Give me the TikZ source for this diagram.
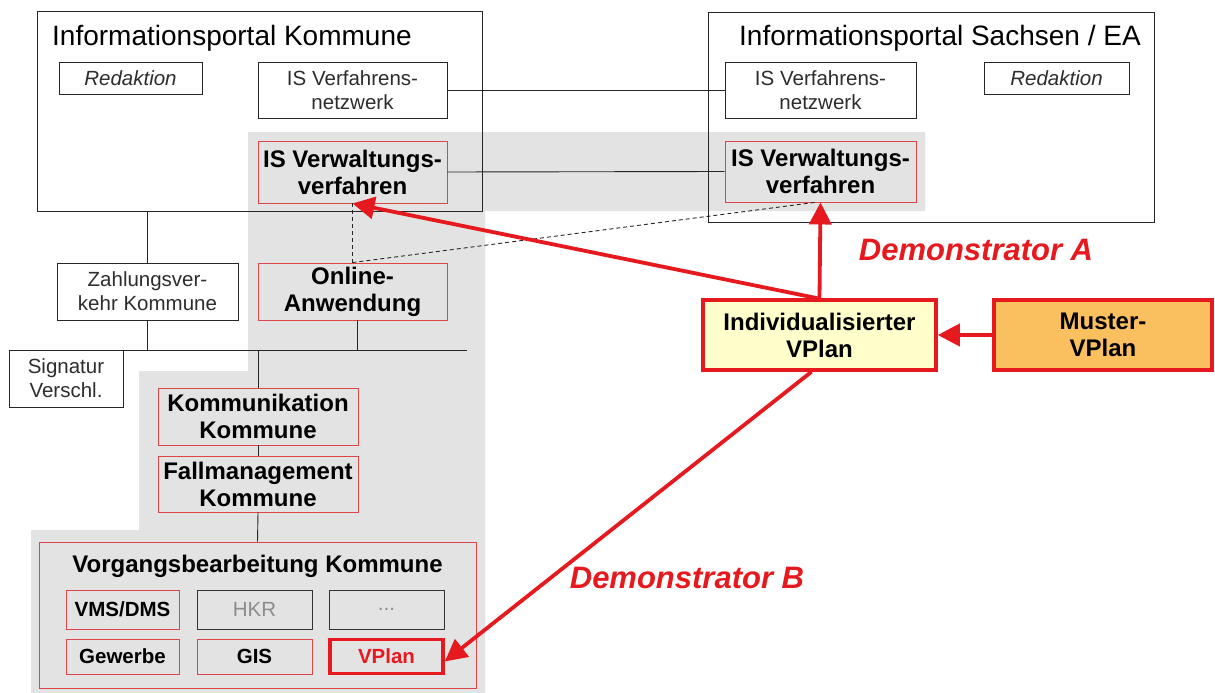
\documentclass[tikz,border=0pt]{standalone}
\usepackage{fontspec}
\setmainfont{Liberation Sans}
\usetikzlibrary{arrows.meta}

\definecolor{bandgrey}{RGB}{227,227,227}
\definecolor{vred}{RGB}{230,25,30}
\definecolor{boxred}{RGB}{220,70,70}
\definecolor{paleyellow}{RGB}{255,255,204}
\definecolor{mango}{RGB}{250,192,96}
\definecolor{txtgrey}{RGB}{45,45,45}
\definecolor{softgrey}{RGB}{140,140,140}

\tikzset{
  portal/.style={draw=black!85, line width=0.9pt, inner sep=0pt},
  plain/.style={draw=black!85, line width=0.9pt, fill=white, inner sep=0pt,
    align=center, text=txtgrey, font=\fontsize{20.5}{24}\selectfont},
  greybox/.style={draw=black!80, line width=0.9pt, inner sep=0pt,
    align=center, text=softgrey, font=\fontsize{20.5}{24}\selectfont},
  redbox/.style={draw=boxred, line width=0.9pt, inner sep=0pt, align=center,
    text=black, font=\bfseries\fontsize{24}{27}\selectfont},
  smallred/.style={redbox, font=\bfseries\fontsize{20.5}{24}\selectfont},
  plan/.style={draw=vred, line width=3.5pt, inner sep=0pt, align=center,
    text=black, font=\bfseries\fontsize{24}{27}\selectfont},
  title/.style={inner sep=0pt, text=black, font=\fontsize{28}{32}\selectfont},
  link/.style={draw=black!85, line width=0.9pt},
  dashlink/.style={link, dash pattern=on 4pt off 3pt},
  bigarrow/.style={draw=vred, line width=3.8pt,
    -{Triangle[length=22pt,width=22pt]}},
  demo/.style={inner sep=0pt, text=vred,
    font=\bfseries\itshape\fontsize{31}{34}\selectfont},
}

\begin{document}
\begin{tikzpicture}[x=1pt,y=-1pt]
  % canvas
  \fill[white] (0,0) rectangle (1215,693);
  \useasboundingbox (0,0) rectangle (1215,693);

  % grey band of the municipal process chain
  \fill[bandgrey] (248,132) -- (925,132) -- (925,211) -- (485,211)
    -- (485,693) -- (31,693) -- (31,530) -- (139,530) -- (139,371)
    -- (248,371) -- cycle;

  % the two portals
  \node[portal, minimum width=445, minimum height=200] (portalK) at (259.5,111) {};
  \node[title, anchor=west] (titleK) at (52,38) {Informationsportal Kommune};
  \node[portal, minimum width=446, minimum height=210] (portalS) at (931,117) {};
  \node[title, anchor=west] (titleS) at (739,38) {Informationsportal Sachsen / EA};

  \node[plain, minimum width=143, minimum height=32] (redL) at (130.5,78) {\itshape Redaktion};
  \node[plain, minimum width=189, minimum height=56] (netzL) at (352.5,90) {IS Verfahrens-\\netzwerk};
  \node[plain, minimum width=191, minimum height=56] (netzS) at (820.5,90) {IS Verfahrens-\\netzwerk};
  \node[plain, minimum width=145, minimum height=32] (redS) at (1056.5,78) {\itshape Redaktion};

  \node[redbox, minimum width=189, minimum height=62] (verwL) at (352.5,172) {IS Verwaltungs-\\verfahren};
  \node[redbox, minimum width=191, minimum height=61] (verwS) at (820.5,171.5) {IS Verwaltungs-\\verfahren};

  % municipal side
  \node[plain, minimum width=181, minimum height=57] (zahl) at (147.5,291.5) {Zahlungsver-\\kehr Kommune};
  \node[redbox, minimum width=189, minimum height=57] (online) at (352.5,291.5) {Online-\\Anwendung};
  \node[plain, minimum width=114, minimum height=57] (sig) at (66,378.5) {Signatur\\Verschl.};
  \coordinate (busL) at (9,350);
  \coordinate (busR) at (467,350);

  \node[redbox, minimum width=200, minimum height=57] (komm) at (258,416.5) {Kommunikation\\Kommune};
  \node[redbox, minimum width=200, minimum height=56] (fall) at (258,484) {Fallmanagement\\Kommune};

  \node[redbox, minimum width=437, minimum height=146] (vb) at (257.5,615) {};
  \node[inner sep=0pt, font=\bfseries\fontsize{24}{27}\selectfont] (vbtitle) at (257.5,566) {Vorgangsbearbeitung Kommune};
  \node[smallred, minimum width=113, minimum height=39] (vms) at (122.5,609.5) {VMS/DMS};
  \node[greybox, minimum width=115, minimum height=39] (hkr) at (254.5,609.5) {HKR};
  \node[greybox, minimum width=115, minimum height=39] (more) at (386.5,609.5) {...};
  \node[smallred, minimum width=113, minimum height=35] (gew) at (122.5,656.5) {Gewerbe};
  \node[smallred, minimum width=115, minimum height=35] (gis) at (254.5,656.5) {GIS};
  \node[plan, minimum width=113, minimum height=34, text=vred,
        font=\bfseries\fontsize{20.5}{24}\selectfont] (vplan) at (386.5,656.5) {VPlan};

  % plans
  \node[plan, fill=paleyellow, minimum width=233, minimum height=70] (indiv) at (819.5,335) {Individualisierter\\VPlan};
  \node[plan, fill=mango, minimum width=218, minimum height=70] (muster) at (1103,335) {Muster-\\VPlan};

  % plain connections
  \draw[link] (netzL.east) -- (netzS.west);
  \draw[link] (verwL.east) -- (verwS.west);
  \draw[link] (portalK.south -| zahl.north) -- (zahl.north);
  \draw[link] (zahl.south) -- (zahl.south |- busL);
  \draw[link] ([xshift=5pt]online.south) -- ([xshift=5pt]online.south |- busL);
  \draw[link] (busL) -- (busR);
  \draw[link] (komm.north |- busL) -- (komm.north);
  \draw[link] (komm.south) -- (fall.north);
  \draw[link] (fall.south) -- (vb.north);
  \draw[dashlink] (verwL.south) -- (online.north);
  \draw[dashlink] (online.north) -- ([xshift=-6pt]verwS.south);

  % demonstrator arrows
  \draw[bigarrow] (muster.west) -- (indiv.east);
  \draw[bigarrow] (indiv.north) -- (verwS.south);
  \draw[bigarrow] ([xshift=-2pt]indiv.north) -- (verwL.south);
  \draw[bigarrow] ([xshift=-8pt]indiv.south) -- ([yshift=-5pt]vplan.east);

  \node[demo] (demoA) at (976,250) {Demonstrator A};
  \node[demo] (demoB) at (687,578) {Demonstrator B};
\end{tikzpicture}
\end{document}
